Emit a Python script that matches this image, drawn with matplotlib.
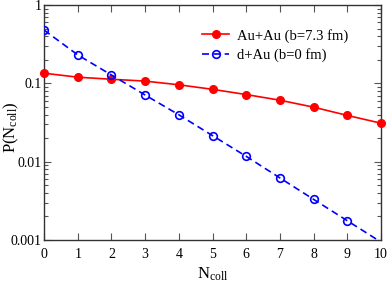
import matplotlib
matplotlib.use("Agg")
import matplotlib.pyplot as plt
from matplotlib.ticker import FixedLocator, FixedFormatter, LogLocator, NullFormatter

ncoll = [0, 1, 2, 3, 4, 5, 6, 7, 8, 9, 10]
auau = [0.135, 0.120, 0.113, 0.107, 0.096, 0.084, 0.072, 0.061, 0.0497, 0.039, 0.031]
dau = [0.48, 0.231, 0.128, 0.071, 0.0397, 0.0215, 0.0117, 0.0062, 0.0033, 0.00176, 0.00094]
ytick_vals = [1, 0.1, 0.01, 0.001]
ytick_labels = ["1", "0.1", "0.01", "0.001"]
xtick_vals = list(range(0, 11))

plt.rcParams['font.family'] = ['Liberation Serif', 'DejaVu Serif']
plt.rcParams['mathtext.fontset'] = 'custom'
plt.rcParams['mathtext.rm'] = 'Liberation Serif'
plt.rcParams['mathtext.it'] = 'Liberation Serif:italic'

fig = plt.figure(figsize=(3.9, 2.84), dpi=100)
ax = fig.add_axes([0.113, 0.155, 0.864, 0.827])

ax.plot(ncoll, auau, color='#ff0000', lw=1.2, marker='o', ms=5.5,
        mfc='#ff0000', mec='#ff0000', label='Au+Au (b=7.3 fm)', clip_on=False, zorder=3)
ax.plot(ncoll, dau, color='#0000ff', lw=1.2, ls=(0, (4.2, 2.6)), marker='o', ms=5.5,
        mfc='none', mec='#0000ff', mew=1.2, markevery=list(range(10)),
        label='d+Au (b=0 fm)', zorder=3)

ax.set_yscale('log')
ax.set_xlim(0, 10)
ax.set_ylim(0.001, 1)
ax.xaxis.set_major_locator(FixedLocator(xtick_vals))
ax.yaxis.set_major_locator(FixedLocator(ytick_vals))
ax.yaxis.set_major_formatter(FixedFormatter(ytick_labels))
ax.yaxis.set_minor_locator(LogLocator(base=10, subs=range(2, 10)))
ax.yaxis.set_minor_formatter(NullFormatter())

ax.tick_params(which='both', direction='in', top=True, right=True, colors='#555555',
               labelcolor='black', labelsize=10)
ax.tick_params(which='major', length=5, width=0.8)
ax.tick_params(which='minor', length=3, width=0.8)
ax.tick_params(axis='x', pad=6)
ax.tick_params(axis='y', pad=2)
for s in ax.spines.values():
    s.set_color('#333333')
    s.set_linewidth(1.0)

ax.set_xlabel(r'N$_{\mathrm{coll}}$', fontsize=12, labelpad=3)
fig.text(11 / 390, 1 - 127 / 284, r'P(N$_{\mathrm{coll}}$)', fontsize=12,
         rotation=90, ha='center', va='center')

ax.legend(loc='upper left', bbox_to_anchor=(0.469, 0.90), frameon=False, fontsize=10.5,
          handlelength=1.85, handletextpad=0.55, borderaxespad=0, borderpad=0,
          labelspacing=0.4)

fig.savefig('out.png', dpi=100)
